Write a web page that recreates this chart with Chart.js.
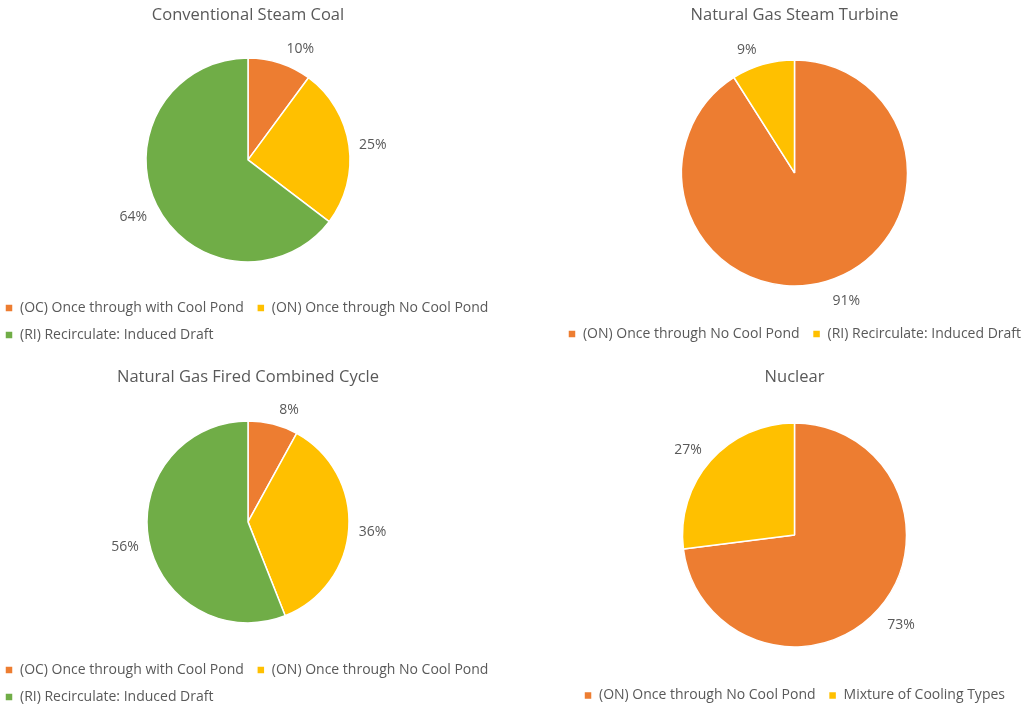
<!DOCTYPE html>
<html>
<head>
<meta charset="utf-8">
<script src="https://cdn.jsdelivr.net/npm/chart.js@4.4.1/dist/chart.umd.min.js"></script>
<style>
  body { margin: 0; background: #fff; overflow: hidden; }
  .panel { position: absolute; }
  #coal { left: -8px; top: 0; width: 512px; height: 352px; }
  #ngst { left: 548px; top: 0; width: 493px; height: 352px; }
  #ngcc { left: -8px; top: 362px; width: 512px; height: 352px; }
  #nuke { left: 548px; top: 362px; width: 493px; height: 352px; }
</style>
</head>
<body>
<div class="panel" id="coal"><canvas></canvas></div>
<div class="panel" id="ngst"><canvas></canvas></div>
<div class="panel" id="ngcc"><canvas></canvas></div>
<div class="panel" id="nuke"><canvas></canvas></div>
<script>
const ORANGE = "#ED7D31";
const YELLOW = "#FFC000";
const GREEN = "#70AD47";
const TEXT = "#595959";
const FONT = "'Open Sans', 'Liberation Sans', sans-serif";

// cooling type shares, percent of capacity
const coalLabels = ["(OC) Once through with Cool Pond", "(ON) Once through No Cool Pond", "(RI) Recirculate: Induced Draft"];
const coalValues = [10, 25, 64];

const ngstLabels = ["(ON) Once through No Cool Pond", "(RI) Recirculate: Induced Draft"];
const ngstValues = [91, 9];

const ngccLabels = ["(OC) Once through with Cool Pond", "(ON) Once through No Cool Pond", "(RI) Recirculate: Induced Draft"];
const ngccValues = [8, 36, 56];

const nukeLabels = ["(ON) Once through No Cool Pond", "Mixture of Cooling Types"];
const nukeValues = [73, 27];

// percent labels just outside each slice, pushed off the rim by the text box
const outsideLabels = {
    id: "outsideLabels",
    afterDatasetsDraw(chart) {
        const ctx = chart.ctx;
        const meta = chart.getDatasetMeta(0);
        const values = chart.data.datasets[0].data;
        ctx.save();
        ctx.font = "14px " + FONT;
        ctx.fillStyle = TEXT;
        ctx.textAlign = "center";
        ctx.textBaseline = "middle";
        const clamp = (t) => Math.max(-1, Math.min(1, t));
        meta.data.forEach((arc, i) => {
            const { x, y, startAngle, endAngle, outerRadius } = arc.getProps(["x", "y", "startAngle", "endAngle", "outerRadius"], true);
            const mid = (startAngle + endAngle) / 2;
            const ux = Math.cos(mid);
            const uy = Math.sin(mid);
            const text = values[i] + "%";
            const w = ctx.measureText(text).width;
            const h = 14;
            const d = outerRadius + 10;
            const dx = (w / 2 + 5 * (1 - Math.abs(ux))) * clamp(ux * 4);
            const dy = (h / 2) * clamp(uy * 1.5) + 2.5;
            ctx.fillText(text, x + d * ux + dx, y + d * uy + dy);
        });
        ctx.restore();
    },
};

function drawPie(id, title, labels, values, colors, radius, opts) {
    const canvas = document.querySelector("#" + id + " canvas");
    return new Chart(canvas, {
        type: "pie",
        data: {
            labels,
            datasets: [
                {
                    data: values,
                    backgroundColor: colors,
                    borderColor: "#fff",
                    borderWidth: 1.5,
                    radius,
                },
            ],
        },
        options: {
            responsive: true,
            maintainAspectRatio: false,
            animation: false,
            layout: { padding: { top: opts.padTop, bottom: opts.padBottom } },
            plugins: {
                title: {
                    display: true,
                    text: title,
                    color: TEXT,
                    font: { family: FONT, size: 16.5, weight: "normal" },
                    padding: { top: 0, bottom: opts.titleGap },
                },
                legend: {
                    position: "bottom",
                    align: opts.legendAlign,
                    labels: {
                        color: TEXT,
                        font: { family: FONT, size: 14 },
                        boxWidth: 8,
                        boxHeight: 8,
                        padding: 13,
                    },
                },
                tooltip: { enabled: false },
            },
        },
        plugins: [outsideLabels],
    });
}

drawPie("coal", "Conventional Steam Coal", coalLabels, coalValues, [ORANGE, YELLOW, GREEN], 102,
    { padTop: 5, padBottom: 0, titleGap: 7, legendAlign: "start" });
drawPie("ngst", "Natural Gas Steam Turbine", ngstLabels, ngstValues, [ORANGE, YELLOW], 113,
    { padTop: 5, padBottom: 1, titleGap: 7, legendAlign: "center" });
drawPie("ngcc", "Natural Gas Fired Combined Cycle", ngccLabels, ngccValues, [ORANGE, YELLOW, GREEN], 101,
    { padTop: 5, padBottom: 0, titleGap: 7, legendAlign: "start" });
drawPie("nuke", "Nuclear", nukeLabels, nukeValues, [ORANGE, YELLOW], 112,
    { padTop: 5, padBottom: 1.5, titleGap: 7.5, legendAlign: "center" });
</script>
</body>
</html>
